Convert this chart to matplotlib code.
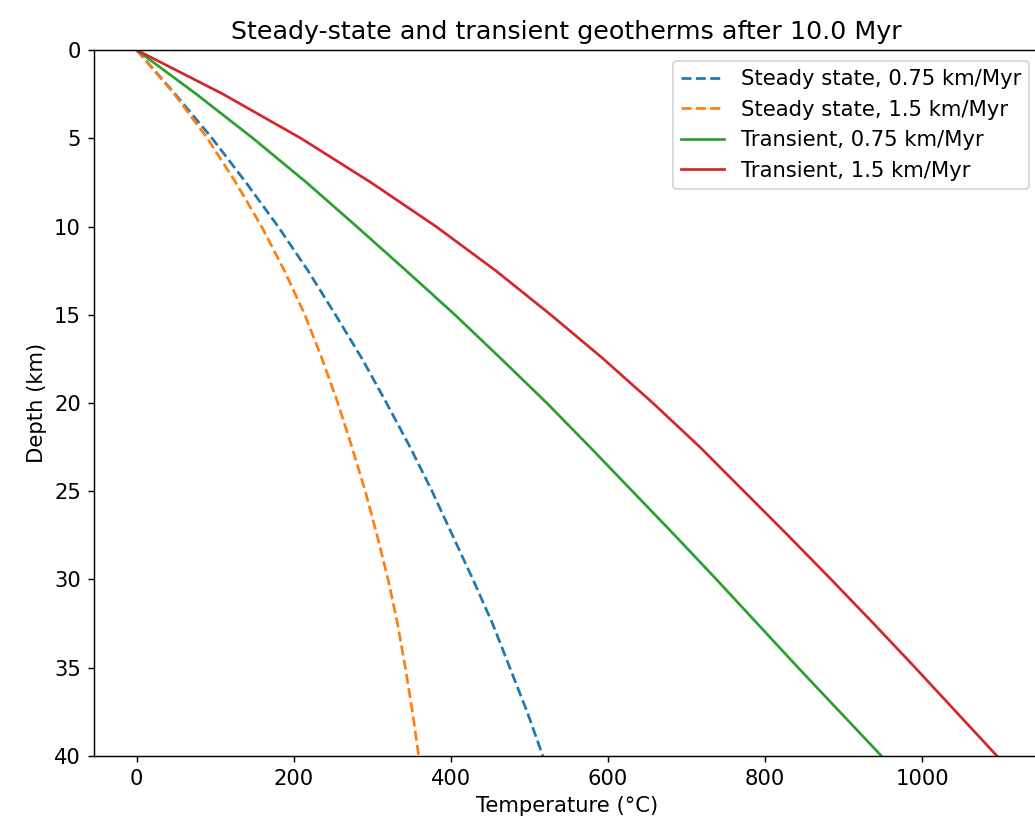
import matplotlib
matplotlib.use('Agg')
import matplotlib.pyplot as plt

plt.rcParams['font.size'] = 11.7

# 深度 (km)
depth = [0, 2.5, 5, 7.5, 10, 12.5, 15, 17.5, 20, 22.5, 25, 27.5, 30, 32.5, 35, 37.5, 40]

# 温度 (°C)
ss_075 = [0, 49, 96, 139, 180, 218, 253, 287, 318, 348, 376, 402, 428, 453, 475, 497, 517]
ss_15 = [0, 48, 90, 126, 159, 188, 214, 236, 256, 274, 291, 306, 320, 332, 342, 351, 359]
tr_075 = [0, 76, 148, 216, 280, 343, 405, 464, 522, 577, 631, 685, 738, 790, 842, 895, 948]
tr_15 = [0, 110, 209, 298, 381, 457, 527, 594, 657, 717, 773, 829, 884, 938, 991, 1043, 1095]

fig = plt.figure(figsize=(1035 / 130, 831 / 130), dpi=130)
ax = fig.add_axes([0.0905, 0.0903, 0.9143, 0.8495])

ax.plot(ss_075, depth, '--', color='C0', label='Steady state, 0.75 km/Myr')
ax.plot(ss_15, depth, '--', color='C1', label='Steady state, 1.5 km/Myr')
ax.plot(tr_075, depth, '-', color='C2', label='Transient, 0.75 km/Myr')
ax.plot(tr_15, depth, '-', color='C3', label='Transient, 1.5 km/Myr')

ax.set_ylim(40, 0)
ax.set_xlabel('Temperature (°C)')
ax.set_ylabel('Depth (km)')
ax.set_title('Steady-state and transient geotherms after 10.0 Myr')
ax.legend(loc='upper right')

fig.savefig('out.png', dpi=130)
